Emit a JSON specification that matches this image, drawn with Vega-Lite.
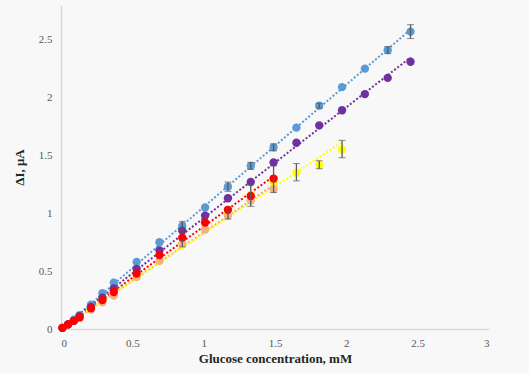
{
  "$schema": "https://vega.github.io/schema/vega-lite/v6.json",
  "width": 428,
  "height": 324,
  "autosize": {"type": "none"},
  "padding": {"left": 61, "top": 5, "right": 40, "bottom": 44},
  "background": "#f8f8f8",
  "config": {
    "view": {"stroke": null},
    "axis": {
      "grid": false,
      "ticks": false,
      "domainColor": "#d9d9d9",
      "domainWidth": 1.5,
      "labelFont": "Liberation Serif",
      "labelFontSize": 11,
      "labelColor": "#595959",
      "titleFont": "Liberation Serif",
      "titleFontSize": 13,
      "titleFontWeight": "bold",
      "titleColor": "#262626"
    }
  },
  "datasets": {
    "pts": [
      {"s": "c", "x": 0.01, "y": 0.01}, {"s": "c", "x": 0.05, "y": 0.04}, {"s": "c", "x": 0.09, "y": 0.08}, {"s": "c", "x": 0.13, "y": 0.12},
      {"s": "c", "x": 0.21, "y": 0.21}, {"s": "c", "x": 0.29, "y": 0.31}, {"s": "c", "x": 0.37, "y": 0.40}, {"s": "c", "x": 0.53, "y": 0.58},
      {"s": "c", "x": 0.69, "y": 0.75}, {"s": "c", "x": 0.85, "y": 0.89}, {"s": "c", "x": 1.01, "y": 1.05}, {"s": "c", "x": 1.17, "y": 1.23},
      {"s": "c", "x": 1.33, "y": 1.41}, {"s": "c", "x": 1.49, "y": 1.57}, {"s": "c", "x": 1.65, "y": 1.74}, {"s": "c", "x": 1.81, "y": 1.93},
      {"s": "c", "x": 1.97, "y": 2.09}, {"s": "c", "x": 2.13, "y": 2.25}, {"s": "c", "x": 2.29, "y": 2.41}, {"s": "c", "x": 2.45, "y": 2.57},
      {"s": "d", "x": 0.01, "y": 0.01}, {"s": "d", "x": 0.05, "y": 0.04}, {"s": "d", "x": 0.09, "y": 0.07}, {"s": "d", "x": 0.13, "y": 0.11},
      {"s": "d", "x": 0.21, "y": 0.19}, {"s": "d", "x": 0.29, "y": 0.27}, {"s": "d", "x": 0.37, "y": 0.35}, {"s": "d", "x": 0.53, "y": 0.52},
      {"s": "d", "x": 0.69, "y": 0.68}, {"s": "d", "x": 0.85, "y": 0.85}, {"s": "d", "x": 1.01, "y": 0.98}, {"s": "d", "x": 1.17, "y": 1.13},
      {"s": "d", "x": 1.33, "y": 1.27}, {"s": "d", "x": 1.49, "y": 1.44}, {"s": "d", "x": 1.65, "y": 1.61}, {"s": "d", "x": 1.81, "y": 1.76},
      {"s": "d", "x": 1.97, "y": 1.89}, {"s": "d", "x": 2.13, "y": 2.03}, {"s": "d", "x": 2.29, "y": 2.17}, {"s": "d", "x": 2.45, "y": 2.31},
      {"s": "e", "x": 0.01, "y": 0.01}, {"s": "e", "x": 0.05, "y": 0.04}, {"s": "e", "x": 0.09, "y": 0.07}, {"s": "e", "x": 0.13, "y": 0.10},
      {"s": "e", "x": 0.21, "y": 0.18}, {"s": "e", "x": 0.29, "y": 0.25}, {"s": "e", "x": 0.37, "y": 0.32}, {"s": "e", "x": 0.53, "y": 0.48},
      {"s": "e", "x": 0.69, "y": 0.64}, {"s": "e", "x": 0.85, "y": 0.79}, {"s": "e", "x": 1.01, "y": 0.92}, {"s": "e", "x": 1.17, "y": 1.03},
      {"s": "e", "x": 1.33, "y": 1.15}, {"s": "e", "x": 1.49, "y": 1.30},
      {"s": "b", "x": 0.01, "y": 0.01}, {"s": "b", "x": 0.05, "y": 0.04}, {"s": "b", "x": 0.09, "y": 0.07}, {"s": "b", "x": 0.13, "y": 0.10},
      {"s": "b", "x": 0.21, "y": 0.17}, {"s": "b", "x": 0.29, "y": 0.23}, {"s": "b", "x": 0.37, "y": 0.29}, {"s": "b", "x": 0.53, "y": 0.45},
      {"s": "b", "x": 0.69, "y": 0.59}, {"s": "b", "x": 0.85, "y": 0.74}, {"s": "b", "x": 1.01, "y": 0.86}, {"s": "b", "x": 1.17, "y": 0.98},
      {"s": "b", "x": 1.33, "y": 1.11}, {"s": "b", "x": 1.49, "y": 1.21},
      {"s": "a", "x": 0.01, "y": 0.01}, {"s": "a", "x": 0.05, "y": 0.04}, {"s": "a", "x": 0.09, "y": 0.07}, {"s": "a", "x": 0.13, "y": 0.10},
      {"s": "a", "x": 0.21, "y": 0.17}, {"s": "a", "x": 0.29, "y": 0.24}, {"s": "a", "x": 0.37, "y": 0.30}, {"s": "a", "x": 0.53, "y": 0.45},
      {"s": "a", "x": 0.69, "y": 0.59}, {"s": "a", "x": 0.85, "y": 0.73}, {"s": "a", "x": 1.01, "y": 0.86}, {"s": "a", "x": 1.17, "y": 1.00},
      {"s": "a", "x": 1.33, "y": 1.16}, {"s": "a", "x": 1.49, "y": 1.27}, {"s": "a", "x": 1.65, "y": 1.35}, {"s": "a", "x": 1.81, "y": 1.42},
      {"s": "a", "x": 1.97, "y": 1.55}
    ],
    "err": [
      {"x": 2.45, "lo": 2.51, "hi": 2.63}, {"x": 2.29, "lo": 2.38, "hi": 2.44}, {"x": 1.81, "lo": 1.91, "hi": 1.95},
      {"x": 1.49, "lo": 1.54, "hi": 1.60}, {"x": 1.33, "lo": 1.38, "hi": 1.44}, {"x": 1.17, "lo": 1.19, "hi": 1.27},
      {"x": 0.85, "lo": 0.85, "hi": 0.93}, {"x": 1.97, "lo": 1.48, "hi": 1.63}, {"x": 1.81, "lo": 1.385, "hi": 1.455},
      {"x": 1.65, "lo": 1.28, "hi": 1.43}, {"x": 1.49, "lo": 1.18, "hi": 1.41}, {"x": 1.33, "lo": 1.06, "hi": 1.25},
      {"x": 1.17, "lo": 0.95, "hi": 1.02}, {"x": 0.85, "lo": 0.71, "hi": 0.77}
    ]
  },
  "layer": [
    {
      "data": {"name": "pts"},
      "transform": [{"regression": "y", "on": "x", "groupby": ["s"]}],
      "mark": {"type": "line", "strokeDash": [2, 2], "strokeWidth": 2},
      "encoding": {
        "x": {"field": "x", "type": "quantitative", "scale": {"domain": [0, 3]}, "axis": {"values": [0, 0.5, 1, 1.5, 2, 2.5, 3], "format": ".1~f", "title": "Glucose concentration, mM", "labelPadding": 8, "titlePadding": 4}},
        "y": {"field": "y", "type": "quantitative", "scale": {"domain": [0, 2.8]}, "axis": {"values": [0, 0.5, 1, 1.5, 2, 2.5], "format": ".1~f", "title": "ΔI, μA", "labelPadding": 9, "titlePadding": 12}},
        "color": {"field": "s", "type": "nominal", "legend": null, "scale": {"domain": ["a", "b", "c", "d", "e"], "range": ["#ffff00", "#f4a25c", "#5b9bd5", "#7030a0", "#ff0000"]}}
      }
    },
    {
      "data": {"name": "pts"},
      "mark": {"type": "circle", "size": 70, "opacity": 1},
      "encoding": {
        "x": {"field": "x", "type": "quantitative"},
        "y": {"field": "y", "type": "quantitative"},
        "order": {"field": "s"},
        "color": {"field": "s", "type": "nominal", "legend": null, "scale": {"domain": ["a", "b", "c", "d", "e"], "range": ["#ffff00", "#f4b183", "#5b9bd5", "#7030a0", "#ff0000"]}}
      }
    },
    {
      "data": {"name": "err"},
      "mark": {"type": "errorbar", "ticks": {"size": 7, "color": "#595959"}, "rule": {"color": "#595959", "strokeWidth": 1.3}},
      "encoding": {
        "x": {"field": "x", "type": "quantitative", "title": "Glucose concentration, mM"},
        "y": {"field": "lo", "type": "quantitative", "title": "ΔI, μA"},
        "y2": {"field": "hi"}
      }
    }
  ],
  "resolve": {"scale": {"color": "independent"}}
}
